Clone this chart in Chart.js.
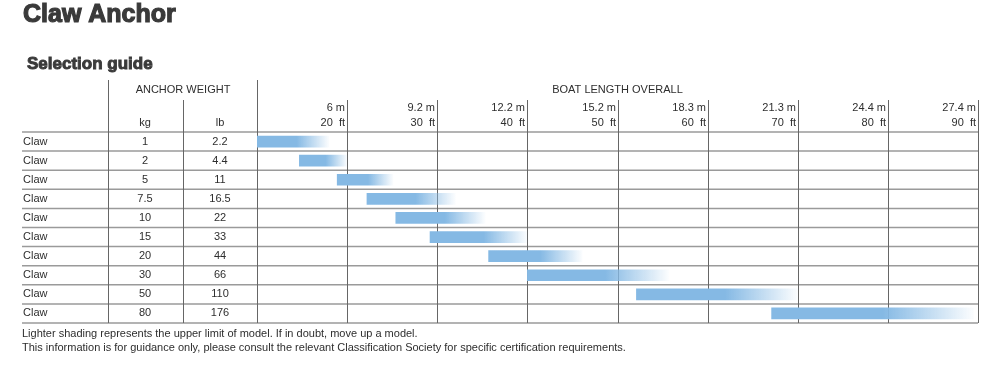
<!DOCTYPE html>
<html>
<head>
<meta charset="utf-8">
<script src="https://cdn.jsdelivr.net/npm/chart.js@4/dist/chart.umd.min.js"></script>
<style>
  html, body { margin: 0; padding: 0; background: #fff; }
  #wrap { position: relative; width: 1000px; height: 370px; }
</style>
</head>
<body>
<div id="wrap"><canvas id="c" width="1000" height="370"></canvas></div>
<script>
// rows of the guide
const models = ['Claw', 'Claw', 'Claw', 'Claw', 'Claw', 'Claw', 'Claw', 'Claw', 'Claw', 'Claw']
const weightKg = ['1', '2', '5', '7.5', '10', '15', '20', '30', '50', '80']
const weightLb = ['2.2', '4.4', '11', '16.5', '22', '33', '44', '66', '110', '176']

// boat length range in ft (start, end of lighter shading)
const lengthFrom = [10, 14.7, 18.9, 22.2, 25.4, 29.2, 35.7, 40, 52.1, 67.1]
const lengthTo = [18, 20, 25.1, 32, 35.3, 40, 46.1, 55.7, 70, 89.5]

// column headings on the length axis
const tickFt = [20, 30, 40, 50, 60, 70, 80, 90]
const tickM = ['6 m', '9.2 m', '12.2 m', '15.2 m', '18.3 m', '21.3 m', '24.4 m', '27.4 m']

const FONT = '"Liberation Sans", Arial, Helvetica, sans-serif'
const TXT = '#2e2e2e'
const barRGB = '133,185,228'

function barFill(c) {
    const chart = c.chart
    if (!chart.chartArea || !c.raw) return 'rgb(' + barRGB + ')'
    const x = chart.scales.x
    const x0 = x.getPixelForValue(c.raw[0])
    const x1 = x.getPixelForValue(c.raw[1])
    const g = chart.ctx.createLinearGradient(x0, 0, x1, 0)
    g.addColorStop(0, 'rgba(' + barRGB + ',1)')
    g.addColorStop(0.55, 'rgba(' + barRGB + ',1)')
    g.addColorStop(1, 'rgba(' + barRGB + ',0.03)')
    return g
}

// table lines behind the bars
const gridPlugin = {
    id: 'tableGrid',
    beforeDatasetsDraw(chart) {
        const ctx = chart.ctx
        const area = chart.chartArea
        const x = chart.scales.x
        const y = chart.scales.y
        const half = (y.getPixelForValue(1) - y.getPixelForValue(0)) / 2
        ctx.save()
        // horizontal rules
        ctx.strokeStyle = '#9a9a9a'
        ctx.lineWidth = 1.5
        for (let i = 0; i <= models.length; i++) {
            const yy = i < models.length ? y.getPixelForValue(i) - half : y.getPixelForValue(i - 1) + half
            ctx.beginPath()
            ctx.moveTo(22, yy)
            ctx.lineTo(area.right, yy)
            ctx.stroke()
        }
        // vertical rules
        ctx.strokeStyle = '#666'
        ctx.lineWidth = 1
        const vline = (xx, top) => {
            ctx.beginPath()
            ctx.moveTo(Math.round(xx) + 0.5, top)
            ctx.lineTo(Math.round(xx) + 0.5, area.bottom)
            ctx.stroke()
        }
        vline(108, 80)
        vline(183, 100)
        vline(x.getPixelForValue(10), 80)
        tickFt.forEach(v => vline(x.getPixelForValue(v), 100))
        ctx.restore()
    }
}

// headings, left columns and notes
const textPlugin = {
    id: 'tableText',
    afterDraw(chart) {
        const ctx = chart.ctx
        const x = chart.scales.x
        const y = chart.scales.y
        ctx.save()
        ctx.fillStyle = '#3a3a3a'
        ctx.strokeStyle = '#3a3a3a'
        ctx.textBaseline = 'middle'
        ctx.textAlign = 'left'
        // heavy headings (fill + thin stroke to thicken)
        ctx.font = 'bold 25px ' + FONT
        ctx.lineWidth = 1.2
        ctx.fillText('Claw Anchor', 23, 15)
        ctx.strokeText('Claw Anchor', 23, 15)
        ctx.font = 'bold 17px ' + FONT
        ctx.lineWidth = 0.9
        ctx.fillText('Selection guide', 27, 64)
        ctx.strokeText('Selection guide', 27, 64)

        ctx.fillStyle = TXT
        ctx.font = '11px ' + FONT
        ctx.textAlign = 'center'
        ctx.fillText('ANCHOR WEIGHT', 183, 90)
        ctx.fillText('BOAT LENGTH OVERALL', (x.left + x.right) / 2, 90)
        ctx.fillText('kg', 145, 123)
        ctx.fillText('lb', 220, 123)

        ctx.textAlign = 'right'
        tickFt.forEach((v, i) => {
            const xx = Math.round(x.getPixelForValue(v)) - 2
            ctx.fillText(tickM[i], xx, 108)
            ctx.fillText(v + '  ft', xx, 123)
        })

        models.forEach((m, i) => {
            const yy = y.getPixelForValue(i)
            ctx.textAlign = 'left'
            ctx.fillText(m, 23, yy)
            ctx.textAlign = 'center'
            ctx.fillText(weightKg[i], 145, yy)
            ctx.fillText(weightLb[i], 220, yy)
        })

        ctx.textAlign = 'left'
        ctx.fillText('Lighter shading represents the upper limit of model. If in doubt, move up a model.', 22, 334)
        ctx.fillText('This information is for guidance only, please consult the relevant Classification Society for specific certification requirements.', 22, 348)
        ctx.restore()
    }
}

const ranges = lengthFrom.map((v, i) => [v, lengthTo[i]])

new Chart(document.getElementById('c'), {
    type: 'bar',
    data: {
        labels: models.map((m, i) => m + ' ' + weightKg[i]),
        datasets: [{
            data: ranges,
            backgroundColor: barFill,
            borderWidth: 0,
            borderSkipped: false,
            barThickness: 11
        }]
    },
    options: {
        indexAxis: 'y',
        responsive: false,
        animation: false,
        layout: { padding: { left: 257, right: 22, top: 132, bottom: 47 } },
        plugins: {
            legend: { display: false },
            tooltip: { enabled: false }
        },
        scales: {
            x: { display: false, min: 10, max: 90 },
            y: { display: false, offset: true }
        }
    },
    plugins: [gridPlugin, textPlugin]
})
</script>
</body>
</html>
